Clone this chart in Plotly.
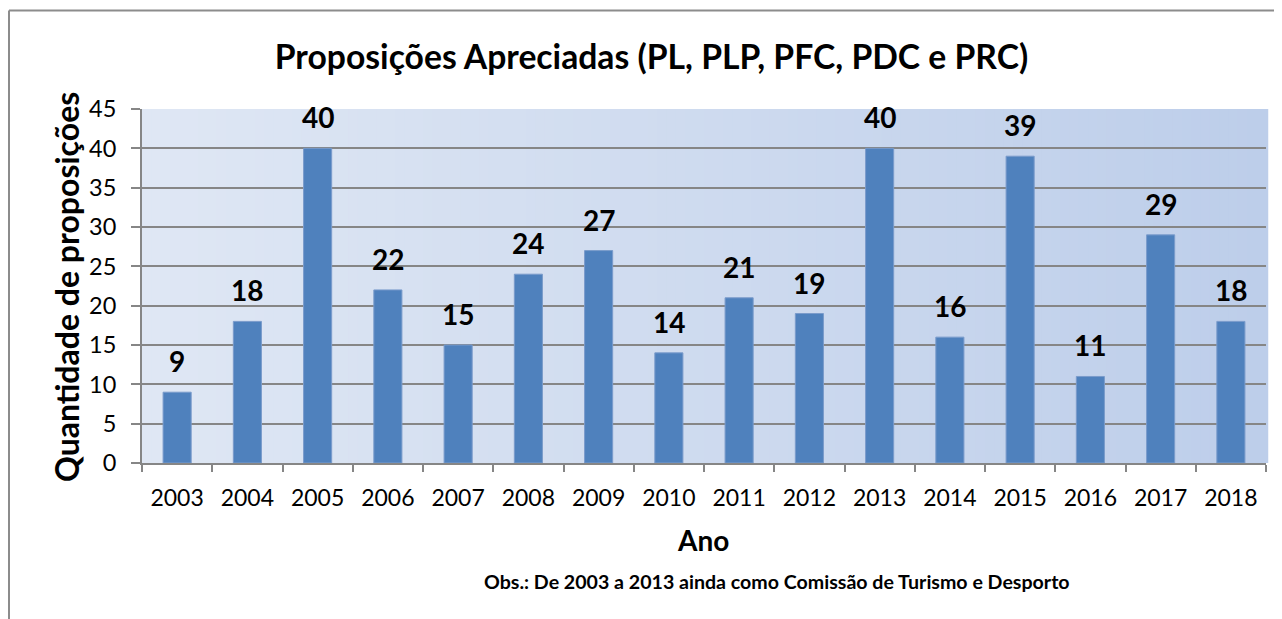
import plotly.graph_objects as go

years = ["2003", "2004", "2005", "2006", "2007", "2008", "2009", "2010",
         "2011", "2012", "2013", "2014", "2015", "2016", "2017", "2018"]
values = [9, 18, 40, 22, 15, 24, 27, 14, 21, 19, 40, 16, 39, 11, 29, 18]

title_text = "Proposições Apreciadas (PL, PLP, PFC, PDC e PRC)"
x_title = "Ano"
y_title = "Quantidade de proposições"
note_text = "Obs.: De 2003 a 2013 ainda como Comissão de Turismo e Desporto"

OFF = 8  # page body margin
W, H = 1274, 611
L, R, T, B = 134, 16, 101, 156
FONT = "Lato"
pw = W - L - R
ph = H - T - B


def px_x(p):
    return (p - OFF - L) / pw


def px_y(p):
    return (H - B - (p - OFF)) / ph


fig = go.Figure()
fig.add_trace(go.Bar(
    x=years, y=values,
    marker=dict(color="#4F81BD", line=dict(color="#7A9BCB", width=1)),
    width=0.4,
    hoverinfo="x+y",
))

# data labels (category index positions)
for i, v in enumerate(values):
    fig.add_annotation(x=i, y=v, xref="x", yref="y", text=f"<b>{v}</b>",
                       showarrow=False, yanchor="bottom", yshift=12,
                       font=dict(family=FONT, size=28, color="black"))

shapes = []
# gradient plot background
N = 120
c0 = (0xDF, 0xE7, 0xF4)
c1 = (0xBD, 0xCE, 0xEA)
for i in range(N):
    t = i / (N - 1)
    c = tuple(round(a + (b - a) * t) for a, b in zip(c0, c1))
    shapes.append(dict(type="rect", xref="x domain", yref="y domain",
                       x0=i / N, x1=(i + 1) / N + 0.002, y0=0, y1=1,
                       fillcolor="rgb(%d,%d,%d)" % c, line=dict(width=0),
                       layer="below"))
# outer chart border (left and top)
bx0 = px_x(9)
by1 = px_y(10.5)
shapes.append(dict(type="line", xref="paper", yref="paper",
                   x0=bx0, x1=bx0, y0=by1, y1=-2,
                   line=dict(color="#8C8C8C", width=2)))
shapes.append(dict(type="line", xref="paper", yref="paper",
                   x0=bx0, x1=2, y0=by1, y1=by1,
                   line=dict(color="#8C8C8C", width=2)))

# axis titles and note as annotations for exact placement
fig.add_annotation(xref="paper", yref="paper", x=px_x(66), y=px_y(287),
                   text=f"<b>{y_title}</b>", textangle=-90, showarrow=False,
                   xanchor="center", yanchor="middle",
                   font=dict(family=FONT, size=32, color="black"))
fig.add_annotation(xref="paper", yref="paper", x=px_x(703), y=px_y(540),
                   text=f"<b>{x_title}</b>", showarrow=False,
                   xanchor="center", yanchor="middle",
                   font=dict(family=FONT, size=28, color="black"))
fig.add_annotation(xref="paper", yref="paper", x=px_x(777), y=px_y(581),
                   text=f"<b>{note_text}</b>", showarrow=False,
                   xanchor="center", yanchor="middle",
                   font=dict(family=FONT, size=19.6, color="black"))

fig.update_layout(
    width=W, height=H,
    margin=dict(l=L, r=R, t=T, b=B),
    paper_bgcolor="white",
    plot_bgcolor="rgba(0,0,0,0)",
    showlegend=False,
    shapes=shapes,
    title=dict(text=f"<b>{title_text}</b>", x=(651.5 - OFF) / W,
               xanchor="center", y=1 - 49 / H, yanchor="middle",
               font=dict(family=FONT, size=33.7, color="black")),
    font=dict(family=FONT, color="black"),
)
fig.update_xaxes(
    type="category", range=[-0.5, len(years) - 0.5],
    tickson="boundaries", ticks="outside", ticklen=7,
    tickcolor="#868686", tickwidth=2, showline=True, linecolor="#868686",
    linewidth=2, showgrid=False, tickfont=dict(family=FONT, size=23),
    tickangle=0, ticklabelstandoff=13,
)
fig.update_yaxes(
    range=[0, 45], dtick=5, ticks="outside", ticklen=9, tickcolor="#868686",
    tickwidth=2, showline=True, linecolor="#868686", linewidth=2,
    showgrid=True, gridcolor="#868686", gridwidth=2, zeroline=False,
    tickfont=dict(family=FONT, size=23.5), ticklabelstandoff=10,
)

fig.write_html("out.html")
